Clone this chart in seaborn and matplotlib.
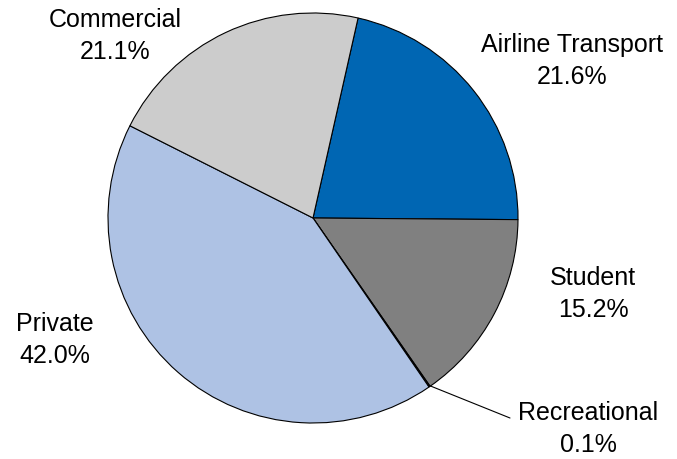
import matplotlib
matplotlib.use("Agg")
import matplotlib.pyplot as plt
import seaborn as sns

sns.set_theme(style="white")
plt.rcParams["font.family"] = ["Liberation Sans", "DejaVu Sans"]

categories = ["Airline Transport", "Student", "Recreational", "Private", "Commercial"]
shares = [21.6, 15.2, 0.1, 42.0, 21.1]
colors = ["#0066B3", "#808080", "#404040", "#AEC2E4", "#CCCCCC"]

W, H = 677, 460
cx, cy, r = 313, 219, 205

fig = plt.figure(figsize=(W / 100, H / 100), dpi=100)
ax = fig.add_axes([(cx - r) / W, (H - cy - r) / H, 2 * r / W, 2 * r / H])

ax.pie(shares, colors=colors, startangle=77.3, counterclock=False, radius=1.0,
       wedgeprops=dict(edgecolor="black", linewidth=0.8))
ax.set_xlim(-1, 1)
ax.set_ylim(-1, 1)
ax.set_aspect("equal")
ax.axis("off")

def to_data(px, py):
    return (px - cx) / r, (cy - py) / r

label_pos = {
    "Airline Transport": (572, 61),
    "Student": (593, 294),
    "Recreational": (588, 429),
    "Private": (55, 340),
    "Commercial": (115, 36),
}

for name, val in zip(categories, shares):
    x, y = to_data(*label_pos[name])
    ax.text(x, y, f"{name}\n{val:.1f}%", ha="center", va="center",
            fontsize=18, color="black", linespacing=1.38, clip_on=False)

# leader line for the thin slice
x0, y0 = to_data(428, 386)
x1, y1 = to_data(510, 419)
ax.plot([x0, x1], [y0, y1], color="black", linewidth=0.8, clip_on=False)

fig.savefig("out.png", dpi=100)
